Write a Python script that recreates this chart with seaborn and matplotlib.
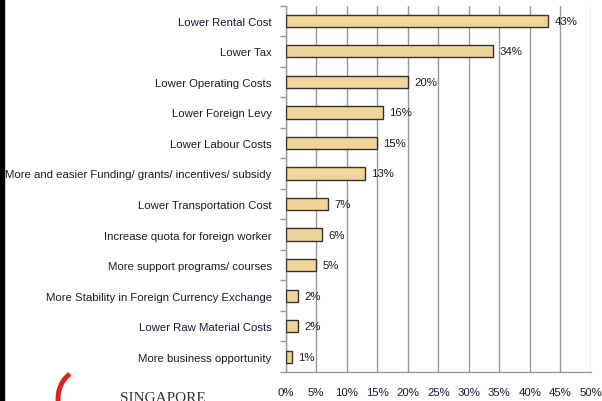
import matplotlib
matplotlib.use('Agg')
import matplotlib.pyplot as plt
import matplotlib.patches as mpatches
from matplotlib.ticker import FixedLocator
import seaborn as sns
import pandas as pd

# survey answers, top to bottom
reasons = [
    'Lower Rental Cost',
    'Lower Tax',
    'Lower Operating Costs',
    'Lower Foreign Levy',
    'Lower Labour Costs',
    'More and easier Funding/ grants/ incentives/ subsidy',
    'Lower Transportation Cost',
    'Increase quota for foreign worker',
    'More support programs/ courses',
    'More Stability in Foreign Currency Exchange',
    'Lower Raw Material Costs',
    'More business opportunity',
]
share = [43, 34, 20, 16, 15, 13, 7, 6, 5, 2, 2, 1]
xticks = list(range(0, 55, 5))

df = pd.DataFrame({'reason': reasons, 'share': share})

sns.set_style('white')
plt.rcParams['font.family'] = ['Liberation Sans', 'DejaVu Sans']

fig = plt.figure(figsize=(6.02, 4.02), dpi=100)
ax = fig.add_axes([0.4743, 0.0721, 0.9817 - 0.4743, 0.9838 - 0.0721])

sns.barplot(data=df, x='share', y='reason', orient='h', width=0.4,
            color='#F0D49A', saturation=1, edgecolor='#333333',
            linewidth=1.0, ax=ax, zorder=3)

ax.set_xlim(0, 50)
ax.set_ylim(len(reasons) - 0.5, -0.5)
ax.xaxis.set_major_locator(FixedLocator(xticks))
ax.set_xticklabels(['%d%%' % v for v in xticks])
ax.grid(axis='x', color='#999999', linewidth=1.0, zorder=0)
ax.grid(axis='y', visible=False)
ax.set_xlabel('')
ax.set_ylabel('')

# category boundary ticks on the y axis
ax.yaxis.set_minor_locator(FixedLocator([i - 0.5 for i in range(len(reasons) + 1)]))
ax.tick_params(axis='y', which='major', length=0, pad=10, labelsize=8.2, colors='#1a1a2e')
ax.tick_params(axis='y', which='minor', length=4, width=1, color='#999999', direction='out', left=True)
ax.tick_params(axis='x', length=0, pad=11, labelsize=8.2, colors='#1a1a2e')

for side in ['top', 'right']:
    ax.spines[side].set_visible(False)
for side in ['left', 'bottom']:
    ax.spines[side].set_color('#999999')
    ax.spines[side].set_linewidth(1.0)

for i, v in enumerate(share):
    ax.annotate('%d%%' % v, (v, i), xytext=(4.5, 0), textcoords='offset points',
                va='center', ha='left', fontsize=8.2, color='#1a1a2e')

# left border of the slide
fig.patches.append(mpatches.Rectangle((0, 0), 4 / 602, 1, transform=fig.transFigure,
                                      color='black', zorder=5))
# bits of the logo at the bottom left
fig.patches.append(mpatches.Arc((80 / 602, 2 / 402), 44 / 602, 56 / 402,
                                theta1=105, theta2=190, transform=fig.transFigure,
                                color='#d9231d', linewidth=3.5))
fig.text(120 / 602, -3 / 402, 'SINGAPORE', family='Liberation Serif',
         fontsize=11, color='#333333', ha='left', va='bottom')

fig.savefig('out.png', dpi=100)
